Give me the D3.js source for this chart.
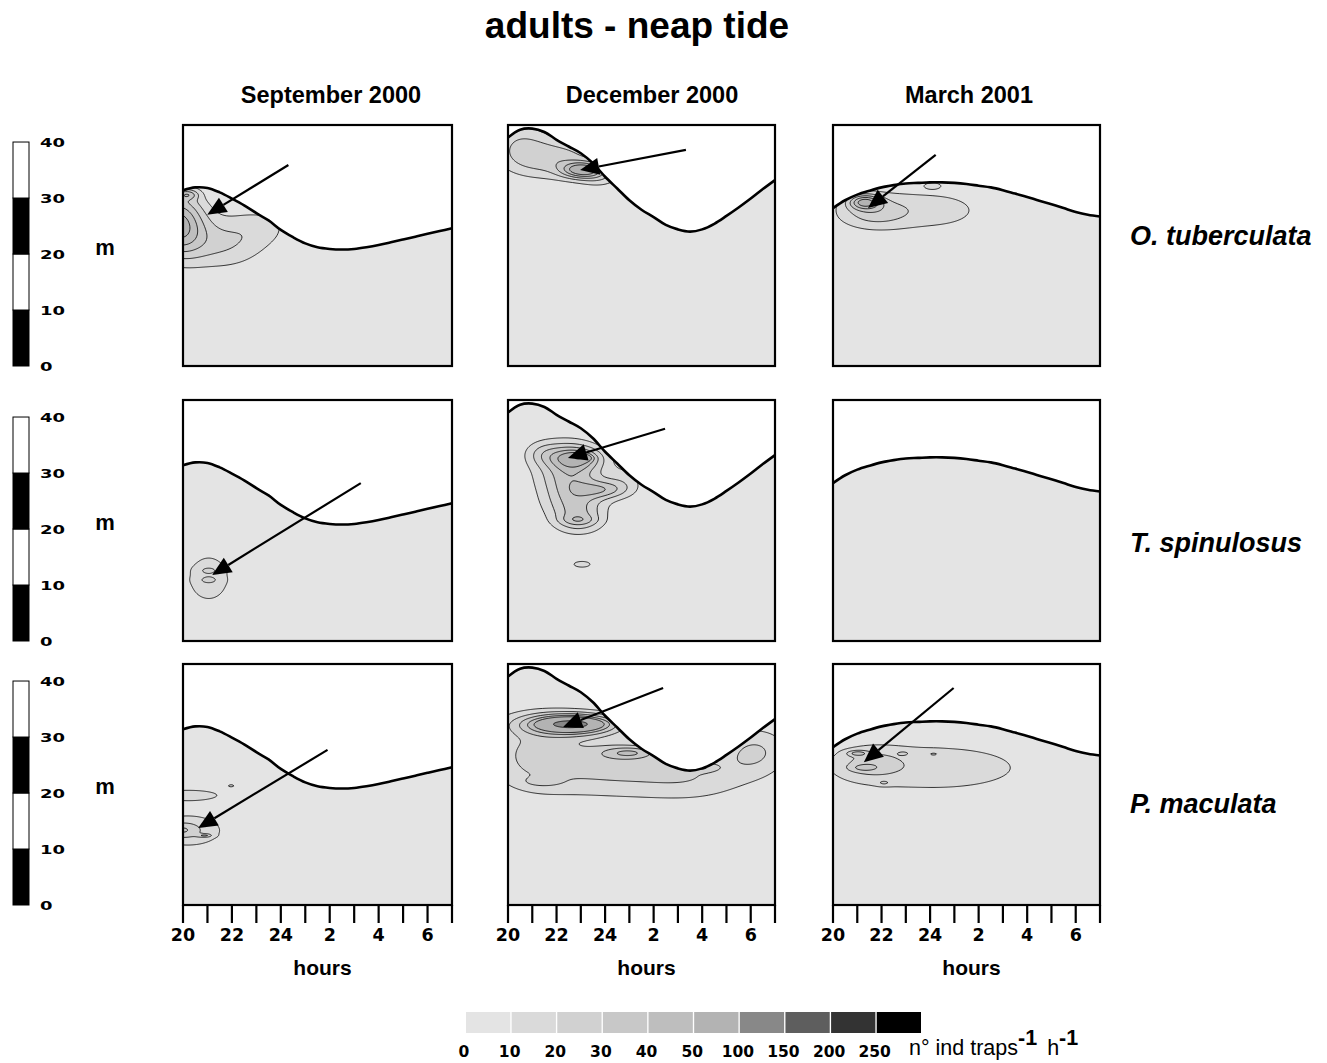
<!DOCTYPE html>
<html>
<head>
<meta charset="utf-8">
<script src="https://cdn.jsdelivr.net/npm/d3@7"></script>
<style>
  body { margin: 0; background: #fff; }
  svg { display: block; }
</style>
</head>
<body>
<svg id="chart" width="1327" height="1063"></svg>
<script>
// ---------- data ----------
const months = ["September 2000", "December 2000", "March 2001"];
const species = ["O. tuberculata", "T. spinulosus", "P. maculata"];

// tide: sea-surface height above the bottom (m) every half hour, 20:00 -> 07:00
const tideHours = [20, 20.5, 21, 21.5, 22, 22.5, 23, 23.5, 24, 24.5, 25, 25.5,
                   26, 26.5, 27, 27.5, 28, 28.5, 29, 29.5, 30, 30.5, 31];
const surfaceSep = [31.4, 31.9, 31.8, 31.0, 29.9, 28.7, 27.3, 26.0, 24.3, 23.0, 21.9, 21.2,
                    20.9, 20.8, 20.9, 21.2, 21.6, 22.1, 22.6, 23.1, 23.6, 24.1, 24.6];
const surfaceDec = [40.8, 42.2, 42.4, 41.8, 40.4, 39.2, 38.0, 36.2, 33.8, 31.7, 29.6, 27.9,
                    26.6, 25.2, 24.4, 24.0, 24.4, 25.4, 26.8, 28.3, 29.9, 31.6, 33.2];
const surfaceMar = [28.2, 29.6, 30.6, 31.3, 31.9, 32.3, 32.6, 32.7, 32.8, 32.8, 32.7, 32.5,
                    32.2, 31.9, 31.4, 30.8, 30.2, 29.5, 28.9, 28.2, 27.5, 27.0, 26.7];

// axis ticks
const hourTicks = [20, 21, 22, 23, 24, 25, 26, 27, 28, 29, 30, 31];
const hourLabels = [[20, "20"], [22, "22"], [24, "24"], [26, "2"], [28, "4"], [30, "6"]];
const depthTicks = [0, 10, 20, 30, 40];

// abundance classes (n° ind traps-1 h-1)
const classBreaks = [0, 10, 20, 30, 40, 50, 100, 150, 200, 250];
const classColors = ["#e4e4e4", "#dadada", "#d1d1d1", "#c8c8c8", "#bebebe",
                     "#b3b3b3", "#888888", "#5e5e5e", "#333333", "#000000"];

// abundance patches: [hour, depth (m), peak, spread in hours, spread in m]
const otubSep = [[19.8, 25.5, 52, 0.75, 3.8], [21.5, 21.8, 20, 1.3, 3.2],
                 [23.2, 25.0, 10, 1.0, 2.5], [20.2, 30.6, 22, 0.3, 0.6]];
const otubDec = [[23.1, 35.0, 50, 0.6, 1.0], [22.0, 37.0, 25, 1.3, 2.5],
                 [20.5, 39.5, 16, 0.8, 3.0], [23.8, 33.5, 12, 0.6, 1.2]];
const otubMar = [[21.3, 29.3, 40, 0.45, 0.9], [21.6, 27.5, 22, 1.1, 2.2],
                 [24.2, 27.8, 14, 1.7, 2.9], [24.1, 32.2, 14, 0.25, 0.4]];
const tspiSep = [[21.05, 11.2, 14, 0.9, 4.4], [21.05, 12.6, 10, 0.3, 0.5],
                 [21.05, 10.9, 10, 0.3, 0.5]];
const tspiDec = [[22.4, 33.0, 28, 0.95, 2.2], [22.6, 29.0, 28, 0.95, 2.2],
                 [22.7, 25.0, 26, 0.9, 2.2], [22.9, 21.5, 24, 0.75, 1.8],
                 [22.9, 32.6, 28, 0.7, 1.3], [22.9, 32.7, 45, 0.3, 0.4],
                 [23.9, 27.0, 24, 0.7, 1.1], [22.9, 21.6, 10, 0.5, 0.6],
                 [23.05, 13.7, 13, 0.45, 0.7], [24.8, 28.5, 12, 0.6, 2.0],
                 [21.4, 33.5, 10, 0.5, 1.5]];
const tspiMar = [];
const pmacSep = [[20.2, 19.6, 16, 1.2, 0.9], [21.97, 21.3, 12, 0.15, 0.25],
                 [20.2, 13.3, 20, 1.1, 2.2], [19.95, 13.4, 12, 0.4, 0.8],
                 [20.9, 12.4, 18, 0.2, 0.2]];
const pmacDec = [[22.6, 32.3, 70, 1.3, 1.3], [22.6, 32.3, 60, 0.6, 0.5],
                 [21.0, 27.0, 20, 1.4, 5.0], [24.0, 25.0, 20, 1.8, 4.0],
                 [25.0, 27.2, 25, 0.8, 0.8], [27.5, 23.0, 18, 1.8, 3.2],
                 [27.9, 24.6, 15, 0.45, 0.5], [30.2, 27.5, 20, 1.0, 3.0],
                 [21.4, 22.0, 10, 0.55, 0.6]];
const pmacMar = [[24.2, 24.5, 16, 3.2, 3.6], [21.5, 25.3, 15, 1.0, 2.0],
                 [21.0, 27.1, 20, 0.3, 0.35], [21.25, 24.5, 12, 0.4, 0.45],
                 [22.1, 21.8, 10, 0.2, 0.3], [22.9, 27.1, 8, 0.2, 0.3],
                 [24.15, 27.0, 8, 0.25, 0.35]];

// arrows pointing at the abundance maximum: [from hour, from depth, to hour, to depth]
const arrowsOtub = [[24.31, 35.9, 20.99, 27.0], [27.33, 38.6, 22.97, 35.0], [24.23, 37.7, 21.44, 28.2]];
const arrowsTspi = [[27.27, 28.2, 21.19, 11.8], [26.47, 37.9, 22.47, 32.7], null];
const arrowsPmac = [[25.91, 27.7, 20.62, 13.75], [26.39, 38.75, 22.27, 31.8], [24.97, 38.75, 21.27, 25.5]];

const surfaces = [surfaceSep, surfaceDec, surfaceMar];
const patches = [[otubSep, otubDec, otubMar], [tspiSep, tspiDec, tspiMar], [pmacSep, pmacDec, pmacMar]];
const arrows = [arrowsOtub, arrowsTspi, arrowsPmac];

// ---------- layout ----------
const svg = d3.select("#chart");
const colX = [183, 508, 833];
const colW = [269, 267, 267];
const titleX = [331, 652, 969];
const rowY = [125, 400, 664];
const panelH = 241;
const depthTop = 43.04;
const sans = "'Liberation Sans', Arial, sans-serif";
const wide = "'DejaVu Sans', Verdana, sans-serif";

svg.append("text")
  .attr("x", 637).attr("y", 38)
  .attr("text-anchor", "middle")
  .style("font-family", sans).style("font-weight", "bold").style("font-size", "37px")
  .text("adults - neap tide");

months.forEach((m, c) => {
  svg.append("text")
    .attr("x", titleX[c]).attr("y", 103)
    .attr("text-anchor", "middle")
    .style("font-family", sans).style("font-weight", "bold").style("font-size", "23.5px")
    .text(m);
});

const speciesBaseline = [245, 552, 813];
species.forEach((s, r) => {
  svg.append("text")
    .attr("x", 1130).attr("y", speciesBaseline[r])
    .style("font-family", sans).style("font-weight", "bold").style("font-style", "italic")
    .style("font-size", "27px")
    .text(s);
});

// grid for the abundance field
const gh0 = 19.4, gh1 = 31.6, gdh = 0.04;
const gd0 = 0, gd1 = 44, gdd = 0.18;
const nx = Math.round((gh1 - gh0) / gdh) + 1;
const ny = Math.round((gd1 - gd0) / gdd) + 1;

function field(list) {
  const v = new Float64Array(nx * ny);
  for (let j = 0; j < ny; j++) {
    const d = gd0 + j * gdd;
    for (let i = 0; i < nx; i++) {
      const h = gh0 + i * gdh;
      let s = 0;
      for (const [ph, pd, pk, sh, sd] of list) {
        const a = (h - ph) / sh, b = (d - pd) / sd;
        s += pk * Math.exp(-0.5 * (a * a + b * b));
      }
      v[j * nx + i] = s;
    }
  }
  return v;
}

const levels = classBreaks.slice(1);
const contourGen = d3.contours().size([nx, ny]).thresholds(levels);

species.forEach((sp, r) => {
  const y = d3.scaleLinear().domain([0, depthTop]).range([rowY[r] + panelH, rowY[r]]);

  // depth scale bar
  const bar = svg.append("g");
  const segs = d3.pairs(depthTicks);
  bar.selectAll("rect").data(segs).join("rect")
    .attr("x", 13).attr("width", 16)
    .attr("y", d => y(d[1])).attr("height", d => y(d[0]) - y(d[1]))
    .attr("fill", (d, i) => i % 2 === 0 ? "#000" : "#fff")
    .attr("stroke", "#000").attr("stroke-width", 1);
  bar.selectAll("text").data(depthTicks).join("text")
    .attr("x", 40).attr("y", d => y(d) + 5)
    .attr("textLength", d => String(d).length * 12.5).attr("lengthAdjust", "spacingAndGlyphs")
    .style("font-family", wide).style("font-weight", "bold").style("font-size", "13px")
    .text(d => d);
  svg.append("text")
    .attr("x", 105).attr("y", rowY[r] + 130)
    .attr("text-anchor", "middle")
    .style("font-family", sans).style("font-weight", "bold").style("font-size", "22px")
    .text("m");

  months.forEach((mo, c) => {
    const x = d3.scaleLinear().domain([20, 31]).range([colX[c], colX[c] + colW[c]]);
    const g = svg.append("g");
    const tide = tideHours.map((h, i) => [h, surfaces[c][i]]);
    const clipId = `water-${r}-${c}`;

    const area = d3.area().curve(d3.curveCatmullRom)
      .x(d => x(d[0])).y0(y(0)).y1(d => y(d[1]));
    const line = d3.line().curve(d3.curveCatmullRom)
      .x(d => x(d[0])).y(d => y(d[1]));

    g.append("clipPath").attr("id", clipId)
      .append("path").attr("d", area(tide));

    g.append("path").attr("d", area(tide)).attr("fill", classColors[0]);

    const list = patches[r][c];
    if (list.length) {
      const conts = contourGen(field(list));
      const proj = d3.geoTransform({
        point: function (px, py) {
          this.stream.point(x(gh0 + (px - 0.5) * gdh), y(gd0 + (py - 0.5) * gdd));
        }
      });
      const path = d3.geoPath(proj);
      g.append("g").attr("clip-path", `url(#${clipId})`)
        .selectAll("path").data(conts).join("path")
        .attr("d", path)
        .attr("fill", d => classColors[classBreaks.indexOf(d.value)])
        .attr("stroke", "#000").attr("stroke-width", 0.8)
        .attr("stroke-linejoin", "round");
    }

    g.append("path").attr("d", line(tide))
      .attr("fill", "none").attr("stroke", "#000").attr("stroke-width", 2.6);

    const a = arrows[r][c];
    if (a) {
      const x0 = x(a[0]), y0 = y(a[1]), x1 = x(a[2]), y1 = y(a[3]);
      const ang = Math.atan2(y1 - y0, x1 - x0);
      const L = 19, W = 8.5;
      const bx = x1 - L * Math.cos(ang), by = y1 - L * Math.sin(ang);
      g.append("line").attr("x1", x0).attr("y1", y0).attr("x2", bx).attr("y2", by)
        .attr("stroke", "#000").attr("stroke-width", 2.2);
      const nxv = -Math.sin(ang), nyv = Math.cos(ang);
      g.append("path")
        .attr("d", `M${x1},${y1}L${bx + W * nxv},${by + W * nyv}L${bx - W * nxv},${by - W * nyv}Z`)
        .attr("fill", "#000");
    }

    g.append("rect")
      .attr("x", colX[c]).attr("y", rowY[r]).attr("width", colW[c]).attr("height", panelH)
      .attr("fill", "none").attr("stroke", "#000").attr("stroke-width", 2.2);

    if (r === 2) {
      const ax = svg.append("g").attr("transform", `translate(0,${rowY[r] + panelH})`);
      ax.selectAll("line").data(hourTicks).join("line")
        .attr("x1", d => x(d)).attr("x2", d => x(d))
        .attr("y1", 0).attr("y2", 18)
        .attr("stroke", "#000").attr("stroke-width", 2.2);
      ax.append("line").attr("x1", x(20)).attr("x2", x(31)).attr("y1", 0).attr("y2", 0)
        .attr("stroke", "#000").attr("stroke-width", 2.2);
      ax.selectAll("text").data(hourLabels).join("text")
        .attr("x", d => x(d[0])).attr("y", 36)
        .attr("text-anchor", "middle")
        .style("font-family", wide).style("font-weight", "bold").style("font-size", "17.5px")
        .text(d => d[1]);
      svg.append("text")
        .attr("x", colX[c] + colW[c] / 2 + 5).attr("y", 975)
        .attr("text-anchor", "middle")
        .style("font-family", sans).style("font-weight", "bold").style("font-size", "21px")
        .text("hours");
    }
  });
});

// ---------- legend ----------
const legend = svg.append("g");
const lx = d3.scaleBand().domain(classBreaks).range([466, 921]).paddingInner(0.03);
legend.selectAll("rect").data(classBreaks).join("rect")
  .attr("x", d => lx(d)).attr("y", 1012)
  .attr("width", lx.bandwidth()).attr("height", 21)
  .attr("fill", (d, i) => classColors[i]);
legend.selectAll("text").data(classBreaks).join("text")
  .attr("x", d => lx(d) - 2).attr("y", 1057)
  .attr("text-anchor", "middle")
  .style("font-family", wide).style("font-weight", "bold").style("font-size", "15.5px")
  .text(d => d);
const unit = legend.append("text")
  .attr("x", 909).attr("y", 1055)
  .style("font-family", "'Liberation Sans Narrow', 'Liberation Sans', Arial, sans-serif")
  .style("font-size", "21.5px");
unit.append("tspan").text("n° ind traps");
unit.append("tspan").attr("dy", -10).style("font-weight", "bold").text("-1");
unit.append("tspan").attr("dy", 10).attr("dx", 10).text("h");
unit.append("tspan").attr("dy", -10).style("font-weight", "bold").text("-1");
</script>
</body>
</html>
